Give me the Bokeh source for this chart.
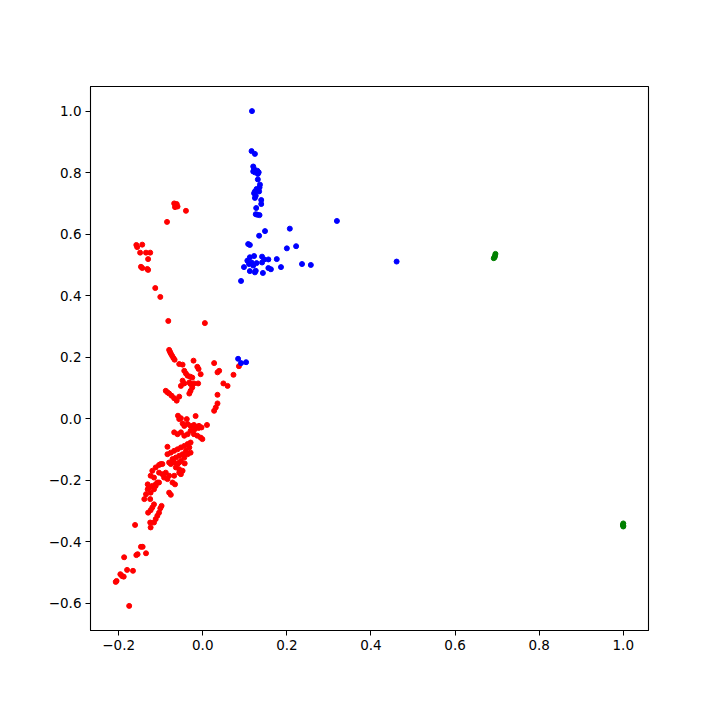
from bokeh.plotting import figure
from bokeh.models import Range1d, FixedTicker
from bokeh.embed import file_html
from bokeh.resources import INLINE

red_x = [-0.068, -0.064, -0.060, -0.066, -0.062, -0.040, -0.085,
         -0.158, -0.156, -0.144, -0.149, -0.135, -0.125, -0.147, -0.144, -0.130,
         -0.132, -0.130, -0.113, -0.101, -0.082, 0.005,
         -0.080, -0.078, -0.076, -0.073, -0.070, -0.067, -0.056, -0.048, -0.022,
         -0.013, -0.010, -0.044, -0.040, -0.036, -0.030, -0.025, -0.005,
         -0.048, -0.044, -0.052, -0.032, -0.029, -0.021, -0.025, -0.029, -0.032, -0.011,
         -0.088, -0.084, -0.080, -0.074, -0.068, -0.062, -0.056,
         0.027, 0.039, 0.035, 0.073, 0.086, 0.049, 0.059, 0.035, 0.035, 0.031, 0.027, 0.010,
         -0.059, -0.052, -0.056, -0.038, -0.017,
         -0.048, -0.044, -0.036, -0.029, -0.021, -0.013, -0.009,
         -0.068, -0.060, -0.052, -0.044, -0.036, -0.029, -0.021, -0.013, -0.005, -0.001,
         -0.010, -0.020, -0.003,
         -0.084, -0.084, -0.076, -0.068, -0.060, -0.052, -0.044, -0.036, -0.029,
         -0.032, -0.040, -0.048, -0.056, -0.064, -0.072,
         -0.080, -0.068, -0.060, -0.052, -0.044, -0.036, -0.029,
         -0.048, -0.056, -0.064, -0.068,
         -0.100, -0.112, -0.120, -0.124, -0.116,
         -0.104, -0.096, -0.088, -0.092, -0.084, -0.080, -0.072,
         -0.131, -0.128, -0.120, -0.112, -0.104,
         -0.104, -0.096, -0.076, -0.056, -0.043, -0.056, -0.052,
         -0.108, -0.112, -0.116, -0.131, -0.135, -0.139, -0.124, -0.125,
         -0.066, -0.080, -0.076, -0.098, -0.101,
         -0.116, -0.120, -0.124, -0.130, -0.104, -0.108, -0.112, -0.116,
         -0.125, -0.124, -0.161, -0.147, -0.143, -0.155, -0.158, -0.135,
         -0.187, -0.180, -0.166, -0.196, -0.192, -0.188, -0.207, -0.205, -0.175]
red_y = [0.700, 0.695, 0.690, 0.688, 0.698, 0.676, 0.640,
         0.565, 0.558, 0.566, 0.540, 0.540, 0.540, 0.494, 0.490, 0.519,
         0.487, 0.484, 0.425, 0.396, 0.318, 0.311,
         0.224, 0.218, 0.212, 0.205, 0.198, 0.192, 0.178, 0.176, 0.189,
         0.169, 0.162, 0.156, 0.147, 0.140, 0.137, 0.134, 0.145,
         0.124, 0.115, 0.107, 0.118, 0.113, 0.115, 0.102, 0.091, 0.082, 0.115,
         0.091, 0.086, 0.082, 0.075, 0.067, 0.059, 0.072,
         0.181, 0.156, 0.151, 0.143, 0.171, 0.115, 0.107, 0.078, 0.050, 0.037, 0.026, -0.020,
         0.010, 0.002, -0.001, -0.001, 0.009,
         -0.015, -0.023, -0.017, -0.023, -0.020, -0.026, -0.023,
         -0.044, -0.050, -0.044, -0.055, -0.050, -0.039, -0.050, -0.055, -0.061, -0.066,
         -0.030, -0.035, -0.028,
         -0.091, -0.115, -0.110, -0.104, -0.099, -0.093, -0.088, -0.082, -0.077,
         -0.093, -0.104, -0.115, -0.120, -0.126, -0.131,
         -0.142, -0.142, -0.147, -0.137, -0.126, -0.115, -0.110,
         -0.169, -0.164, -0.158, -0.185,
         -0.147, -0.158, -0.169, -0.185, -0.191,
         -0.175, -0.180, -0.175, -0.191, -0.196, -0.185, -0.207,
         -0.213, -0.224, -0.218, -0.213, -0.207,
         -0.150, -0.147, -0.147, -0.142, -0.145, -0.175, -0.180,
         -0.207, -0.218, -0.229, -0.229, -0.245, -0.261, -0.240, -0.261,
         -0.213, -0.240, -0.247, -0.283, -0.291,
         -0.278, -0.288, -0.297, -0.305, -0.305, -0.315, -0.326, -0.337,
         -0.337, -0.353, -0.345, -0.416, -0.416, -0.440, -0.443, -0.437,
         -0.450, -0.491, -0.494, -0.505, -0.511, -0.513, -0.530, -0.527, -0.608]

blue_x = [0.117, 0.116, 0.124,
          0.120, 0.122, 0.120, 0.124, 0.130, 0.133, 0.131, 0.131,
          0.136, 0.135, 0.128, 0.124, 0.122, 0.126, 0.124, 0.134, 0.131,
          0.139, 0.139, 0.127, 0.130, 0.135, 0.126,
          0.319, 0.207, 0.148, 0.134, 0.108, 0.112, 0.200, 0.222,
          0.098, 0.106, 0.112, 0.122, 0.116, 0.110, 0.120, 0.128, 0.141, 0.146,
          0.141, 0.156, 0.156, 0.162, 0.176, 0.186, 0.112, 0.126, 0.124, 0.143,
          0.236, 0.257, 0.091, 0.461, 0.084, 0.091, 0.103]
blue_y = [1.000, 0.870, 0.861,
          0.820, 0.812, 0.804, 0.801, 0.806, 0.801, 0.796, 0.778,
          0.761, 0.752, 0.747, 0.739, 0.733, 0.725, 0.718, 0.739, 0.743,
          0.711, 0.698, 0.685, 0.663, 0.662, 0.665,
          0.643, 0.618, 0.610, 0.595, 0.568, 0.565, 0.554, 0.561,
          0.493, 0.514, 0.525, 0.529, 0.508, 0.503, 0.498, 0.506, 0.527, 0.518,
          0.508, 0.518, 0.490, 0.486, 0.519, 0.493, 0.480, 0.481, 0.476, 0.474,
          0.503, 0.500, 0.448, 0.511, 0.195, 0.181, 0.184]

green_x = [0.696, 0.694, 0.692, 0.695, 1.000, 0.999, 1.000, 1.000]
green_y = [0.536, 0.525, 0.522, 0.530, -0.340, -0.345, -0.350, -0.347]

x_ticks = [-0.2, 0.0, 0.2, 0.4, 0.6, 0.8, 1.0]
y_ticks = [-0.6, -0.4, -0.2, 0.0, 0.2, 0.4, 0.6, 0.8, 1.0]


def lab(v):
    s = f"{abs(v):.1f}"
    return ("\u2212" + s) if v < 0 else s


p = figure(width=704, height=704, output_backend="svg", toolbar_location=None,
           x_range=Range1d(-0.267, 1.060), y_range=Range1d(-0.688, 1.080),
           min_border_left=90, min_border_right=56, min_border_top=86, min_border_bottom=74)
p.xgrid.visible = False
p.ygrid.visible = False
p.outline_line_color = "black"
p.outline_line_width = 1.1
p.background_fill_color = "white"
p.border_fill_color = "white"

for ax, ticks in ((p.xaxis, x_ticks), (p.yaxis, y_ticks)):
    ax.ticker = FixedTicker(ticks=ticks)
    ax.major_label_overrides = {t: lab(t) for t in ticks}
    ax.minor_tick_line_color = None
    ax.major_tick_in = 0
    ax.major_tick_out = 5
    ax.major_tick_line_color = "black"
    ax.axis_line_color = "black"
    ax.major_label_text_color = "black"
    ax.major_label_text_font = "DejaVu Sans"
    ax.major_label_text_font_size = "13.5px"
    ax.major_label_standoff = 4

p.scatter(red_x, red_y, size=5, color="red", line_color="red", line_width=1)
p.scatter(blue_x, blue_y, size=5, color="blue", line_color="blue", line_width=1)
p.scatter(green_x, green_y, size=5, color="green", line_color="green", line_width=1)

open("out.html", "w").write(file_html(p, INLINE))
